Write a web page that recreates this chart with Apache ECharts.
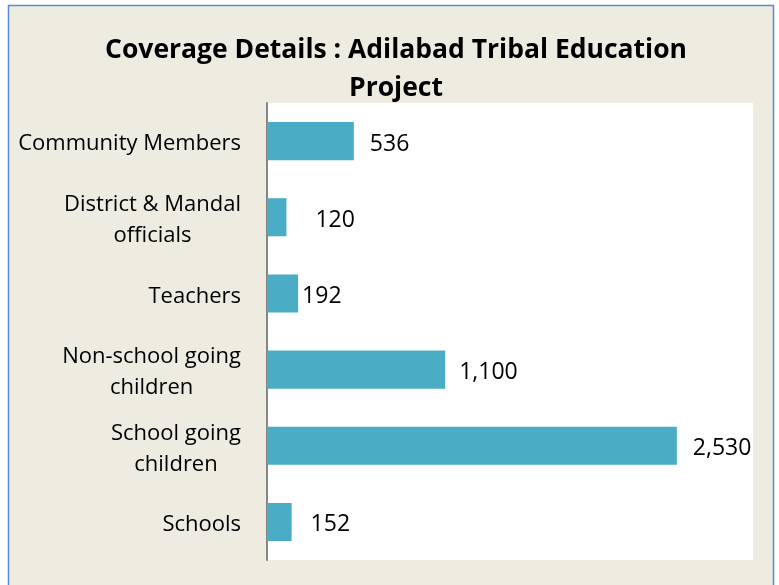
<!DOCTYPE html>
<html>
<head>
<meta charset="utf-8">
<script src="https://cdn.jsdelivr.net/npm/echarts@6/dist/echarts.min.js"></script>
<style>
html, body { margin: 0; padding: 0; background: #fff; }
#main { width: 779px; height: 585px; }
</style>
</head>
<body>
<div id="main"></div>
<script>
// categories, top to bottom
var categories = ['Community Members', 'District & Mandal\nofficials', 'Teachers',
	'Non-school going\nchildren', 'School going\nchildren', 'Schools'];
var values = [536, 120, 192, 1100, 2530, 152];
// gap between bar end and its label (labels were nudged by hand in the original)
var labelGap = [16, 29, 4, 14, 16, 19];

var fontName = '"Open Sans", "Noto Sans", sans-serif';

var barData = [];
for (var i = 0; i < values.length; i++) {
	barData.push({ value: values[i], label: { distance: labelGap[i] } });
}

var myChart = echarts.init(document.getElementById('main'));
var option = {
	backgroundColor: '#ffffff',
	animation: false,
	graphic: [{
		type: 'rect',
		z: -10,
		shape: { x: 8.5, y: 5.5, width: 765, height: 600 },
		style: { fill: '#EEECE1', stroke: '#5B8BD0', lineWidth: 1.5 }
	}, {
		type: 'rect',
		z: -9,
		shape: { x: 267, y: 103, width: 486, height: 457 },
		style: { fill: '#ffffff' }
	}],
	title: {
		text: 'Coverage Details : Adilabad Tribal Education\nProject',
		left: 391,
		top: 26,
		textAlign: 'center',
		textStyle: {
			fontFamily: fontName,
			fontSize: 26.5,
			fontWeight: 'bold',
			color: '#000',
			lineHeight: 38
		}
	},
	grid: { left: 267, right: 26, top: 103, bottom: 25 },
	xAxis: {
		type: 'value',
		min: 0,
		max: 3000,
		show: false
	},
	yAxis: {
		type: 'category',
		inverse: true,
		data: categories,
		axisLine: { show: true, lineStyle: { color: '#868686', width: 2 } },
		axisTick: { show: false },
		axisLabel: {
			margin: 26,
			align: 'right',
			padding: [6, 0, 0, 0],
			fontFamily: fontName,
			fontSize: 22,
			color: '#000',
			lineHeight: 31,
			formatter: function (v) {
				return v.split('\n').map(function (s) { return '{c|' + s + '}'; }).join('\n');
			},
			rich: {
				c: { align: 'center', fontFamily: fontName, fontSize: 22, color: '#000', lineHeight: 31 }
			}
		}
	},
	series: [{
		type: 'bar',
		data: barData,
		barCategoryGap: '50%',
		itemStyle: { color: '#4BACC6' },
		label: {
			show: true,
			position: 'right',
			offset: [0, 3],
			fontFamily: fontName,
			fontSize: 23,
			color: '#000',
			formatter: function (p) { return p.value.toLocaleString('en-US'); }
		}
	}]
};
myChart.setOption(option);
</script>
</body>
</html>
